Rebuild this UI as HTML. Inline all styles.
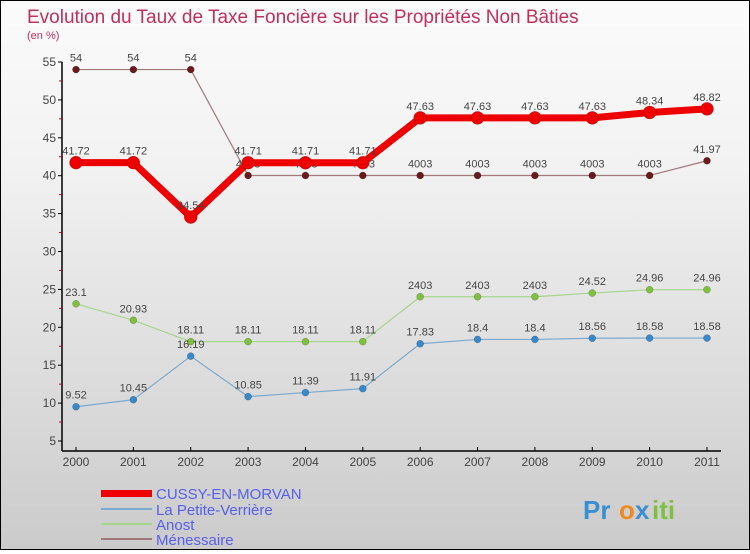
<!DOCTYPE html>
<html><head><meta charset="utf-8"><style>
body{margin:0;width:750px;height:550px;overflow:hidden;font-family:"Liberation Sans",sans-serif}
#wrap{position:relative;width:748px;height:548px;border:1px solid #000;background:linear-gradient(#fbfbfb,#f2f2f2 30%,#cbcbcb)}
</style></head><body>
<div id="wrap">
<svg id="svg" width="748" height="548" xmlns="http://www.w3.org/2000/svg">
<text x="26" y="22" font-size="19" fill="#c0305a">Evolution du Taux de Taxe Foncière sur les Propriétés Non Bâties</text>
<text x="26" y="38" font-size="11" fill="#c0305a">(en %)</text>
<g id="axes"></g><g id="series"></g>
<g>
<rect x="100" y="489" width="51" height="7" fill="#e00"/>
<text x="155" y="498" font-size="15" fill="#5560ee">CUSSY-EN-MORVAN</text>
<rect x="100" y="507" width="51" height="2" fill="#7aaad0"/>
<text x="155" y="514" font-size="15" fill="#5560ee">La Petite-Verrière</text>
<rect x="100" y="522" width="51" height="2" fill="#a6d68a"/>
<text x="155" y="529" font-size="15" fill="#5560ee">Anost</text>
<rect x="100" y="537" width="51" height="2" fill="#a07a7a"/>
<text x="155" y="544" font-size="15" fill="#5560ee">Ménessaire</text>
</g>
<g font-size="26" font-weight="bold">
<text x="582" y="518" fill="#3a8fd0">Pr</text><text x="618" y="518" fill="#f08a20">o</text><text x="634" y="518" fill="#3a8fd0">x</text><text x="651" y="518" fill="#80c040">iti</text>
</g>
</svg>
</div>
<script>
const years=[2000,2001,2002,2003,2004,2005,2006,2007,2008,2009,2010,2011];
const cussy=[41.72,41.72,34.54,41.71,41.71,41.71,47.63,47.63,47.63,47.63,48.34,48.82];
const petite=[9.52,10.45,16.19,10.85,11.39,11.91,17.83,18.4,18.4,18.56,18.58,18.58];
const anost=[23.1,20.93,18.11,18.11,18.11,18.11,24.03,24.03,24.03,24.52,24.96,24.96];
const menes=[54,54,54,40.03,40.03,40.03,40.03,40.03,40.03,40.03,40.03,41.97];
const cussyLbl=["41.72","41.72","34.54","41.71","41.71","41.71","47.63","47.63","47.63","47.63","48.34","48.82"];
const petiteLbl=["9.52","10.45","16.19","10.85","11.39","11.91","17.83","18.4","18.4","18.56","18.58","18.58"];
const anostLbl=["23.1","20.93","18.11","18.11","18.11","18.11","2403","2403","2403","24.52","24.96","24.96"];
const menesLbl=["54","54","54","4003","4003","4003","4003","4003","4003","4003","4003","41.97"];
const yTicks=[5,10,15,20,25,30,35,40,45,50,55];
const NS="http://www.w3.org/2000/svg";
const x=i=>75+i*(706-75)/(years.length-1);
const y=v=>440-(v-5)*(440-61)/50;
function mk(t,a,p){const e=document.createElementNS(NS,t);for(const k in a)e.setAttribute(k,a[k]);p.appendChild(e);return e;}
const ax=document.getElementById('axes');
let l=mk('line',{x1:61,y1:61,x2:61,y2:450,stroke:'#000','stroke-width':1.5},ax);


l=mk('line',{x1:61,y1:450,x2:720,y2:450,stroke:'#000','stroke-width':1.5},ax);


yTicks.forEach((v,i)=>{
 mk('line',{x1:57,x2:61,y1:y(v),y2:y(v),stroke:'#000'},ax);
 if(i<yTicks.length-1)mk('line',{x1:58,x2:61,y1:y(v+2.5),y2:y(v+2.5),stroke:'#d00'},ax);
 const t=mk('text',{x:55,y:y(v)+4,'font-size':12,fill:'#444','text-anchor':'end'},ax);t.textContent=v;
 
 
});
years.forEach((yr,i)=>{
 mk('line',{x1:x(i),x2:x(i),y1:446,y2:450,stroke:'#000'},ax);
 const t=mk('text',{x:x(i),y:465,'font-size':12,fill:'#444','text-anchor':'middle'},ax);t.textContent=yr;
 
 
});
const sg=document.getElementById('series');
function series(name,vals,lbls,color,lw,dotFill,r){
 const g=mk('g',{},sg);
 
 
 const p=mk('polyline',{points:vals.map((v,i)=>x(i)+','+y(v)).join(' '),fill:'none',stroke:color,'stroke-width':lw,'stroke-linejoin':'round'},g);
 
 
 vals.forEach((v,i)=>{
  const c=mk('circle',{cx:x(i),cy:y(v),r:r,fill:dotFill,stroke:'rgba(0,0,0,0.3)','stroke-width':0.5},g);
  
  
  const t=mk('text',{x:x(i),y:y(v)-8,'font-size':11,fill:'#444','text-anchor':'middle'},g);t.textContent=lbls[i];
  
  
 });
}
series('menessaire',menes,menesLbl,'#a07a7a',1.2,'#6a1a1a',3.5);
series('cussy',cussy,cussyLbl,'#e00',7,'#e00',6.5);
series('anost',anost,anostLbl,'#a6d68a',1.2,'#80c040',3.5);
series('petite',petite,petiteLbl,'#7aaad0',1.2,'#3a88c8',3.5);
</script>
</body></html>
